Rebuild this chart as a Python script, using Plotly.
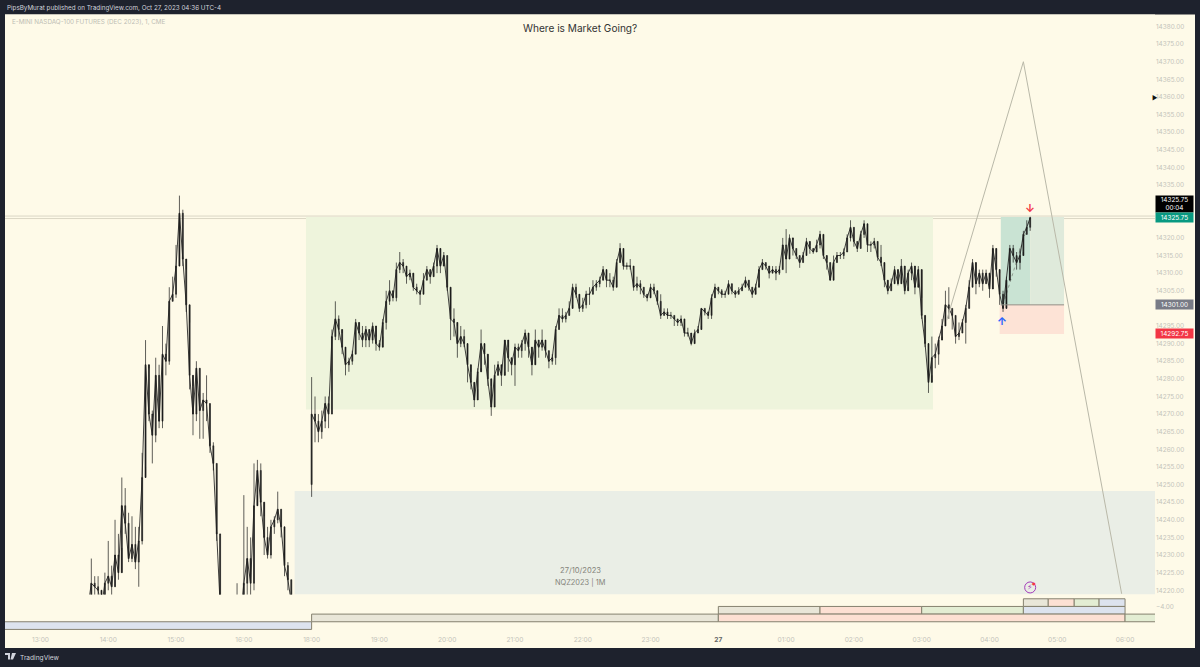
"""
NQZ2023 1-minute chart with a consolidation zone, a long position box and
session boxes underneath. Bars are read off the picture at 3 minute spacing.
"""

import pandas as pd
import plotly.graph_objects as go

FONT = "Inter, Roboto, sans-serif"
CREAM = "#fefae8"
DARK = "#1e222d"
W, H = 1200, 667

# afternoon session, 13:42 to 16:57
left_closes = [
    14215, 14222, 14221, 14220, 14215, 14222, 14224, 14221, 14230, 14225,
    14244, 14239, 14229, 14233, 14228, 14234, 14252, 14284, 14270, 14264,
    14281, 14268, 14287, 14285, 14302, 14304, 14312, 14327, 14314, 14301,
    14281, 14270, 14283, 14271, 14274, 14273, 14261, 14256, 14236, 14216,
    14212, 14208, 14210, 14212, 14214, 14212, 14222, 14229, 14222, 14244,
    14254, 14245, 14235, 14230, 14238, 14240, 14243, 14238, 14227, 14223,
    14216, 14210, 14207, 14205, 14208, 14212,
]
left_highs = [
    14218, 14229, 14224, 14224, 14217, 14225, 14234, 14227, 14240, 14236,
    14252, 14249, 14242, 14241, 14238, 14238, 14259, 14291, 14283, 14271,
    14286, 14284, 14295, 14290, 14306, 14309, 14318, 14332, 14328, 14311,
    14296, 14278, 14285, 14283, 14276, 14281, 14273, 14262, 14256, 14236,
    14216, 14212, 14213, 14215, 14222, 14216, 14247, 14238, 14235, 14256,
    14257, 14256, 14241, 14238, 14240, 14241, 14248, 14243, 14237, 14228,
    14223, 14216, 14210, 14208, 14211, 14215,
]
left_lows = [
    14212, 14216, 14218, 14216, 14212, 14216, 14220, 14217, 14221, 14223,
    14232, 14236, 14228, 14228, 14226, 14221, 14233, 14255, 14268, 14256,
    14262, 14266, 14266, 14281, 14284, 14302, 14303, 14318, 14312, 14299,
    14277, 14264, 14268, 14263, 14263, 14268, 14259, 14254, 14234, 14214,
    14210, 14206, 14207, 14209, 14211, 14209, 14212, 14216, 14218, 14220,
    14247, 14241, 14230, 14229, 14229, 14236, 14239, 14235, 14224, 14220,
    14213, 14207, 14204, 14203, 14205, 14208,
]

# evening and overnight session, 18:00 to 04:36
right_first_open = 14250
right_closes = [
    14270, 14268, 14265, 14268, 14273, 14270, 14292, 14297, 14294, 14289,
    14284, 14285, 14287, 14296, 14293, 14291, 14294, 14291, 14295, 14290,
    14289, 14296, 14302, 14305, 14303, 14311, 14313, 14312, 14309, 14310,
    14306, 14305, 14304, 14308, 14311, 14309, 14312, 14317, 14312, 14315,
    14306, 14297, 14296, 14290, 14292, 14290, 14284, 14279, 14274, 14282,
    14290, 14287, 14280, 14272, 14281, 14284, 14281, 14291, 14286, 14284,
    14289, 14288, 14290, 14293, 14289, 14284, 14291, 14289, 14291, 14288,
    14285, 14286, 14294, 14298, 14297, 14298, 14300, 14306, 14304, 14300,
    14301, 14304, 14304, 14306, 14307, 14308, 14311, 14308, 14308, 14306,
    14313, 14317, 14312, 14312, 14312, 14306, 14307, 14306, 14304, 14303,
    14306, 14305, 14302, 14298, 14299, 14298, 14298, 14297, 14296, 14297,
    14293, 14293, 14290, 14293, 14294, 14300, 14299, 14298, 14303, 14306,
    14305, 14304, 14304, 14307, 14305, 14304, 14305, 14306, 14308, 14306,
    14304, 14306, 14311, 14313, 14312, 14310, 14311, 14310, 14311, 14318,
    14314, 14320, 14317, 14315, 14313, 14315, 14319, 14317, 14316, 14318,
    14321, 14315, 14313, 14308, 14313, 14315, 14315, 14316, 14320, 14323,
    14319, 14317, 14321, 14324, 14318, 14318, 14319, 14314.5, 14313, 14308,
    14305, 14307, 14311, 14307, 14312, 14305, 14310, 14312, 14306, 14311,
    14298, 14290, 14279, 14286, 14287, 14291, 14295, 14301, 14300, 14298,
    14292, 14293, 14296, 14300, 14306, 14313, 14307, 14310, 14307, 14310,
    14305.5, 14317, 14311, 14304, 14300, 14308, 14317, 14315, 14313, 14315,
    14321, 14323, 14325.75,
]
right_highs = [
    14280.5, 14275, 14270, 14271, 14275, 14275, 14294, 14302, 14298, 14293,
    14288, 14286, 14288, 14297, 14294, 14295, 14295, 14293, 14296, 14292,
    14291, 14297, 14305, 14308, 14305, 14313, 14316, 14314, 14312, 14311,
    14309, 14307, 14305, 14310, 14312, 14311, 14313, 14318, 14316, 14316,
    14315, 14300, 14300, 14295, 14295, 14294, 14287, 14282, 14277, 14283,
    14294, 14289, 14283, 14278, 14284, 14285, 14284, 14291, 14289, 14286,
    14290, 14290, 14291, 14294, 14290, 14286, 14294, 14291, 14294, 14291,
    14288, 14287, 14295, 14300, 14300, 14299, 14302, 14307, 14307, 14302,
    14303, 14305, 14306, 14308, 14308, 14309, 14312, 14310, 14310, 14309,
    14314, 14318.5, 14314, 14313, 14314, 14312, 14309, 14308, 14306, 14304,
    14307, 14307, 14304, 14304, 14300, 14300, 14299, 14298, 14297, 14298,
    14297, 14294.5, 14292, 14294, 14295, 14300, 14300, 14299, 14304, 14307,
    14306, 14305.5, 14305, 14308, 14307, 14305, 14306, 14307, 14309, 14308,
    14306, 14307, 14312, 14314, 14313, 14311, 14312, 14312, 14312, 14320,
    14322.5, 14321, 14319.5, 14317, 14315, 14316, 14320, 14318, 14317, 14319.5,
    14322, 14319, 14314, 14313, 14315, 14316, 14316, 14317, 14321, 14325,
    14323, 14319, 14322, 14325, 14320, 14319, 14320, 14319, 14318, 14312,
    14306, 14308.5, 14312, 14310, 14314, 14311, 14311, 14313, 14308, 14312,
    14303, 14296, 14287, 14292, 14290, 14292, 14297, 14305, 14306, 14300,
    14298, 14296, 14297, 14301, 14308, 14314, 14309, 14311, 14311, 14311,
    14310, 14318, 14314, 14310, 14305, 14309, 14318, 14318, 14316, 14317,
    14322, 14325, 14326,
]
right_lows = [
    14246.5, 14262, 14262, 14263, 14266, 14266, 14270, 14291, 14291, 14287,
    14281, 14282, 14284, 14287, 14291, 14289, 14289, 14289, 14290, 14288,
    14288, 14292, 14294, 14301, 14302, 14302, 14310, 14310, 14307, 14308,
    14305, 14304, 14301, 14304, 14308, 14307, 14309, 14310, 14310, 14313,
    14305, 14291, 14292, 14286, 14289, 14289, 14279, 14277, 14272, 14277,
    14283, 14284, 14278, 14269.5, 14272, 14281, 14278, 14282, 14282, 14281,
    14278, 14286, 14286, 14288, 14286, 14281, 14288, 14286, 14288, 14286,
    14283, 14284, 14284, 14294, 14296, 14296, 14298, 14301, 14303, 14299,
    14299, 14300, 14301, 14304, 14305, 14306, 14309, 14306, 14306, 14305,
    14308, 14313, 14311, 14311, 14311, 14305, 14305, 14304, 14303, 14302,
    14304, 14304, 14301, 14297, 14298, 14297, 14297, 14295, 14295, 14295,
    14292, 14292, 14289.5, 14291, 14293, 14295, 14298, 14297, 14297, 14303,
    14304, 14303, 14303, 14304, 14304, 14303, 14304, 14305, 14306, 14305,
    14303, 14305, 14307, 14311, 14311, 14308.5, 14310, 14308, 14309.5, 14311,
    14310, 14314, 14315, 14314, 14311.5, 14313, 14315, 14315.5, 14315.5, 14316,
    14317, 14314, 14311, 14308, 14309, 14313, 14314, 14314, 14316, 14319,
    14317.5, 14316, 14317, 14320, 14316, 14316, 14317, 14313.5, 14312, 14306,
    14304, 14305, 14308, 14306.5, 14309, 14304, 14306, 14308, 14304, 14307,
    14297, 14289, 14276, 14281, 14283, 14284, 14292, 14298, 14297, 14294,
    14290, 14291, 14293, 14290, 14300, 14306, 14304, 14306, 14305, 14307,
    14303, 14311, 14309, 14301, 14299, 14305, 14312, 14313, 14311, 14311,
    14316, 14321, 14322,
]

# projected move drawn on the chart
projection_x = ["2023-10-27 03:22", "2023-10-27 04:30", "2023-10-27 05:57"]
projection_y = [14296.5, 14370, 14219]

# session boxes in the lower pane
box_start = [
    "2023-10-27 04:30", "2023-10-27 04:52", "2023-10-27 05:15", "2023-10-27 05:37",
    "2023-10-27 00:00", "2023-10-27 01:30", "2023-10-27 03:00", "2023-10-27 04:30",
    "2023-10-26 18:00", "2023-10-27 00:00", "2023-10-27 06:00",
    "2023-10-26 12:00",
]
box_end = [
    "2023-10-27 04:52", "2023-10-27 05:15", "2023-10-27 05:37", "2023-10-27 06:00",
    "2023-10-27 01:30", "2023-10-27 03:00", "2023-10-27 04:30", "2023-10-27 06:00",
    "2023-10-27 00:00", "2023-10-27 06:00", "2023-10-27 07:00",
    "2023-10-26 18:00",
]
box_top = [-3, -3, -3, -3, -4, -4, -4, -4, -5, -5, -5, -6]
box_bottom = [-4, -4, -4, -4, -5, -5, -5, -5, -6, -6, -6, -7]
box_fill = [
    "#e9e6d8", "#fde0d3", "#e3edd3", "#dde3ee",
    "#e9e6d8", "#fde0d3", "#e3edd3", "#dde3ee",
    "#e9e6d8", "#fde0d3", "#e3edd3",
    "#dde3ee",
]

# 14300, 14325 and 14330 sit behind the price tags in the picture
price_ticks = [
    14220, 14225, 14230, 14235, 14240, 14245, 14250, 14255, 14260, 14265, 14270,
    14275, 14280, 14285, 14290, 14295, 14305, 14310, 14315, 14320, 14335, 14340,
    14345, 14350, 14355, 14360, 14365, 14370, 14375, 14380,
]
time_ticks = [
    "2023-10-26 13:00", "2023-10-26 14:00", "2023-10-26 15:00", "2023-10-26 16:00",
    "2023-10-26 18:00", "2023-10-26 19:00", "2023-10-26 20:00", "2023-10-26 21:00",
    "2023-10-26 22:00", "2023-10-26 23:00", "2023-10-27 00:00", "2023-10-27 01:00",
    "2023-10-27 02:00", "2023-10-27 03:00", "2023-10-27 04:00", "2023-10-27 05:00",
    "2023-10-27 06:00",
]
time_labels = [
    "13:00", "14:00", "15:00", "16:00", "18:00", "19:00", "20:00", "21:00", "22:00",
    "23:00", '<span style="color:#666"><b>27</b></span>', "01:00", "02:00", "03:00",
    "04:00", "05:00", "06:00",
]


def px_x(x):
    return x / W


def px_y(y):
    return 1 - y / H


def note(text, x, y, size=8, color="#bdbdb4", anchor="left", **kw):
    # text placed by page pixels
    return dict(
        text=text, x=px_x(x), y=px_y(y), xref="paper", yref="paper", showarrow=False,
        xanchor=anchor, yanchor="middle", font=dict(family=FONT, size=size, color=color), **kw,
    )


def price_tag(text, y, color, height=9):
    return dict(
        text=text, x=px_x(1154.5), y=y, xref="paper", yref="y", showarrow=False,
        xanchor="left", yanchor="middle", width=37, height=height, borderpad=0,
        bgcolor=color, font=dict(family=FONT, size=6.4, color="white"), align="center",
    )


def rect(x0, x1, y0, y1, fill, **kw):
    return dict(type="rect", xref="x", yref="y", x0=x0, x1=x1, y0=y0, y1=y1,
                fillcolor=fill, line=dict(width=0), layer="below", **kw)


def main():
    left_times = list(pd.date_range("2023-10-26 13:42", "2023-10-26 16:57", freq="3min"))
    right_times = list(pd.date_range("2023-10-26 18:00", "2023-10-27 04:36", freq="3min"))
    left_opens = [left_closes[0]] + left_closes[:-1]
    right_opens = [right_first_open] + right_closes[:-1]

    fig = go.Figure()
    fig.add_trace(
        go.Candlestick(
            x=left_times + right_times,
            open=left_opens + right_opens,
            high=left_highs + right_highs,
            low=left_lows + right_lows,
            close=left_closes + right_closes,
            increasing=dict(line=dict(color="#1a1a1a", width=0.7), fillcolor="#1a1a1a"),
            decreasing=dict(line=dict(color="#1a1a1a", width=0.7), fillcolor="#1a1a1a"),
            whiskerwidth=0,
            showlegend=False,
            hoverinfo="skip",
        )
    )
    # closes joined up, the real bars are 1 minute and run together at this scale
    for times, closes in ((left_times, left_closes), (right_times, right_closes)):
        fig.add_trace(
            go.Scatter(
                x=times, y=closes, mode="lines",
                line=dict(color="rgba(30,30,30,0.85)", width=1),
                showlegend=False, hoverinfo="skip",
            )
        )
    fig.add_trace(
        go.Scatter(
            x=projection_x, y=projection_y, mode="lines",
            line=dict(color="#b9b8a8", width=1), showlegend=False, hoverinfo="skip",
        )
    )
    # alert icon above the session boxes
    fig.add_trace(
        go.Scatter(
            x=["2023-10-27 04:36"], y=[14220.8], mode="markers",
            marker=dict(symbol="circle", size=11, color="rgba(0,0,0,0)", line=dict(color="#a23bb8", width=1)),
            showlegend=False, hoverinfo="skip",
        )
    )

    shapes = [
        # cream chart panel on the dark page
        dict(type="rect", xref="paper", yref="paper", x0=px_x(5), x1=px_x(1195), y0=px_y(648),
             y1=px_y(14.5), fillcolor=CREAM, line=dict(width=0), layer="below"),
        rect("2023-10-26 16:55", "2023-10-27 03:10", 14271.3, 14325.9, "#eef4dc"),
        rect("2023-10-26 16:45", "2023-10-27 06:27", 14218.8, 14248.2, "#eaeee6"),
        rect("2023-10-27 04:10", "2023-10-27 04:36", 14301, 14325.9, "#c9e3d3"),
        rect("2023-10-27 04:36", "2023-10-27 05:06", 14301, 14325.9, "#dfeadb"),
        rect("2023-10-27 04:09", "2023-10-27 05:06", 14292.75, 14301, "#fde3d6"),
        dict(type="line", xref="x", yref="y", x0="2023-10-27 04:10", x1="2023-10-27 05:06",
             y0=14301, y1=14301, line=dict(color="#8f8f86", width=1)),
        dict(type="line", xref="x", yref="y", x0="2023-10-27 04:12", x1="2023-10-27 04:36",
             y0=14301, y1=14325.75, line=dict(color="#8f9c90", width=1, dash="dot"), layer="below"),
    ]
    for level in (14326.2, 14325.5):
        shapes.append(
            dict(type="line", xref="paper", yref="y", x0=px_x(5), x1=px_x(1155), y0=level, y1=level,
                 line=dict(color="rgba(190,185,170,0.55)", width=1), layer="below")
        )
    for x0, x1, top, bottom, fill in zip(box_start, box_end, box_top, box_bottom, box_fill):
        shapes.append(
            dict(type="rect", xref="x", yref="y2", x0=x0, x1=x1, y0=bottom, y1=top,
                 fillcolor=fill, line=dict(color="#85816f", width=1))
        )

    annotations = [
        note("PipsByMurat published on TradingView.com, Oct 27, 2023 04:36 UTC-4", 5, 8, 6.3, "#d1d4dc"),
        note("E-MINI NASDAQ-100 FUTURES (DEC 2023), 1, CME", 10, 22, 6.3),
        note("Where is Market Going?", 580, 28.5, 10.1, "#333333", "center"),
        note("27/10/2023", 580, 570, 7.6, "#85857c", "center"),
        note("NQZ2023 | 1M", 580, 582, 7.4, "#85857c", "center"),
        note("TradingView", 18, 657.5, 6.6, "#d1d4dc"),
        note("▶", 1150, 98, 6, "#111111"),
        price_tag("14325.75<br>00:04", 14329.6, "#000000", 16),
        price_tag("14325.75", 14325.75, "#089981"),
        price_tag("14301.00", 14301, "#787b86"),
        price_tag("14292.75", 14292.75, "#f23645"),
        dict(text="<b>↑</b>", x="2023-10-27 04:11", y=14296.5, showarrow=False,
             font=dict(family=FONT, size=11, color="#2962ff")),
        dict(text="<b>↓</b>", x="2023-10-27 04:36", y=14328.4, showarrow=False,
             font=dict(family=FONT, size=11, color="#f23645")),
        dict(text="⚡", x="2023-10-27 04:36", y=14220.8, showarrow=False,
             font=dict(family="DejaVu Sans", size=8, color="#a23bb8")),
        dict(text="●", x="2023-10-27 04:36", y=14220.8, xshift=3.5, yshift=4, showarrow=False,
             font=dict(family="DejaVu Sans", size=4, color="#f23645")),
    ]

    # TradingView mark, in pixels from its anchor
    shapes.append(
        dict(type="path", xref="paper", yref="paper", xsizemode="pixel", ysizemode="pixel",
             xanchor=px_x(5), yanchor=px_y(661),
             path="M0,8 L5,8 L5,1.5 L3,1.5 L3,6 L0,6 Z M7,8 L11,8 L8,1.5 L5.5,1.5 Z",
             fillcolor="#d1d4dc", line=dict(width=0))
    )

    fig.update_layout(
        width=W,
        height=H,
        margin=dict(l=0, r=0, t=0, b=0),
        paper_bgcolor=DARK,
        plot_bgcolor=CREAM,
        showlegend=False,
        boxgap=0.6,
        xaxis=dict(
            type="date",
            domain=[px_x(5), px_x(1155)],
            anchor="y2",
            range=["2023-10-26 12:28:36", "2023-10-27 06:26:30"],
            rangebreaks=[dict(pattern="hour", bounds=[17, 18])],
            rangeslider=dict(visible=False),
            tickmode="array",
            tickvals=time_ticks,
            ticktext=time_labels,
            tickfont=dict(family=FONT, size=6.6, color="#c4c4bb"),
            showgrid=False,
            zeroline=False,
            showline=False,
            ticks="",
        ),
        yaxis=dict(
            domain=[px_y(594.5), px_y(14.5)],
            side="right",
            anchor="x",
            range=[14218.8, 14383.4],
            tickmode="array",
            tickvals=price_ticks,
            tickformat=".2f",
            tickfont=dict(family=FONT, size=6.4, color="#c4c4bb"),
            showgrid=False,
            zeroline=False,
            showline=False,
            ticks="",
        ),
        yaxis2=dict(
            domain=[px_y(634), px_y(594.5)],
            side="right",
            anchor="x",
            range=[-7.6, -2.44],
            tickmode="array",
            tickvals=[-4],
            ticktext=["−4.00"],
            tickfont=dict(family=FONT, size=6.4, color="#c4c4bb"),
            showgrid=False,
            zeroline=False,
            showline=False,
            ticks="",
        ),
        shapes=shapes,
        annotations=annotations,
    )

    # page margin off so the figure sits flush in the window
    fig.write_html(
        "out.html",
        config={"displayModeBar": False},
        post_script="document.body.style.margin = '0';",
    )


if __name__ == "__main__":
    main()
